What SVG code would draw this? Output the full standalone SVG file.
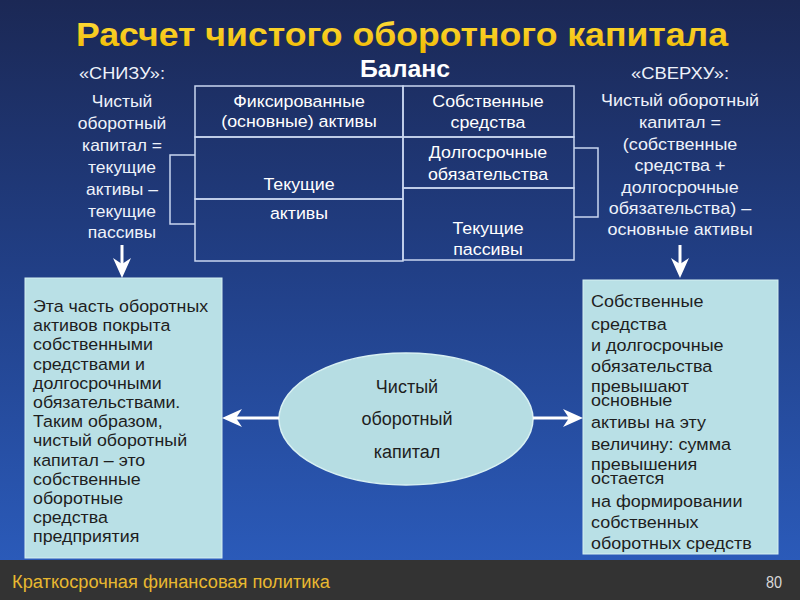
<svg xmlns="http://www.w3.org/2000/svg" width="800" height="600" viewBox="0 0 800 600">
<defs>
<linearGradient id="bg" x1="0" y1="0" x2="0" y2="1">
<stop offset="0" stop-color="#1b2855"/>
<stop offset="0.45" stop-color="#213f86"/>
<stop offset="1" stop-color="#2c5ec0"/>
</linearGradient>
<linearGradient id="ttl" x1="0" y1="0" x2="0" y2="1">
<stop offset="0" stop-color="#ffe040"/>
<stop offset="1" stop-color="#f0b800"/>
</linearGradient>
<marker id="ah" viewBox="0 0 20 20" refX="6" refY="10" markerWidth="20" markerHeight="20" markerUnits="userSpaceOnUse" orient="auto">
<path d="M0,1 L20,10 L0,19 L6,10 Z" fill="#ffffff"/>
</marker>
<style>
text{font-family:"Liberation Sans",Arial,sans-serif}
.w{fill:#eef2fa;font-size:16.5px;text-anchor:middle}
.tb{fill:#ffffff;font-size:16.5px;text-anchor:middle}
.bx{fill:#1e1e1e;font-size:16.5px}
.cell{fill:none;stroke:#c9d6f0;stroke-width:1.5}
.br{fill:none;stroke:#c9d6f0;stroke-width:1.5}
.box{fill:#b9e0e6;stroke:#d6f0f2;stroke-width:1}
.conn{stroke:#ffffff;stroke-width:3;fill:none;marker-end:url(#ah)}
</style>
</defs>
<rect x="0" y="0" width="800" height="600" fill="url(#bg)"/>
<rect x="0" y="560" width="800" height="40" fill="#333333"/>

<g id="title">
<text x="76" y="46" font-size="34" font-weight="bold" fill="url(#ttl)" textLength="652" lengthAdjust="spacingAndGlyphs">Расчет чистого оборотного капитала</text>
</g>

<g id="balance">
<text x="405" y="77" font-size="24" font-weight="bold" fill="#ffffff" text-anchor="middle" textLength="90" lengthAdjust="spacingAndGlyphs">Баланс</text>
<rect class="cell" x="195" y="86" width="208" height="51"/>
<rect class="cell" x="195" y="137" width="208" height="62"/>
<rect class="cell" x="195" y="199" width="208" height="62"/>
<rect class="cell" x="403" y="86" width="171" height="51"/>
<rect class="cell" x="403" y="137" width="171" height="51"/>
<rect class="cell" x="403" y="188" width="171" height="72"/>
<g transform="translate(299 0) scale(1.08 1)">
<text class="tb" x="0" y="107">Фиксированные</text>
<text class="tb" x="0" y="127">(основные) активы</text>
<text class="tb" x="0" y="190">Текущие</text>
<text class="tb" x="0" y="219">активы</text>
</g>
<g transform="translate(488 0) scale(1.08 1)">
<text class="tb" x="0" y="107">Собственные</text>
<text class="tb" x="0" y="128">средства</text>
<text class="tb" x="0" y="158">Долгосрочные</text>
<text class="tb" x="0" y="180">обязательства</text>
<text class="tb" x="0" y="234">Текущие</text>
<text class="tb" x="0" y="255">пассивы</text>
</g>
</g>

<g id="bottom-up">
<text x="122" y="79" font-size="17" fill="#eef2fa" text-anchor="middle" textLength="86" lengthAdjust="spacingAndGlyphs">«СНИЗУ»:</text>
<g transform="translate(122 0) scale(1.06 1)">
<text class="w" x="0" y="107">Чистый</text>
<text class="w" x="0" y="129">оборотный</text>
<text class="w" x="0" y="151">капитал =</text>
<text class="w" x="0" y="173">текущие</text>
<text class="w" x="0" y="195">активы –</text>
<text class="w" x="0" y="217">текущие</text>
<text class="w" x="0" y="238">пассивы</text>
</g>
<path class="br" d="M195,155 H170 V224 H195"/>
</g>

<g id="top-down">
<text x="680" y="79" font-size="17" fill="#eef2fa" text-anchor="middle" textLength="98" lengthAdjust="spacingAndGlyphs">«СВЕРХУ»:</text>
<g transform="translate(680 0) scale(1.09 1)">
<text class="w" x="0" y="106">Чистый оборотный</text>
<text class="w" x="0" y="128">капитал =</text>
<text class="w" x="0" y="150">(собственные</text>
<text class="w" x="0" y="171">средства +</text>
<text class="w" x="0" y="193">долгосрочные</text>
<text class="w" x="0" y="214">обязательства) –</text>
<text class="w" x="0" y="235">основные активы</text>
</g>
<path class="br" d="M574,148 H598 V217 H574"/>
</g>

<g id="left-box">
<rect class="box" x="25" y="278" width="197" height="280"/>
<g transform="translate(33 0) scale(1.08 1)">
<text class="bx" x="0" y="312">Эта часть оборотных</text>
<text class="bx" x="0" y="331">активов покрыта</text>
<text class="bx" x="0" y="350">собственными</text>
<text class="bx" x="0" y="370">средствами и</text>
<text class="bx" x="0" y="389">долгосрочными</text>
<text class="bx" x="0" y="408">обязательствами.</text>
<text class="bx" x="0" y="427">Таким образом,</text>
<text class="bx" x="0" y="446">чистый оборотный</text>
<text class="bx" x="0" y="466">капитал – это</text>
<text class="bx" x="0" y="485">собственные</text>
<text class="bx" x="0" y="504">оборотные</text>
<text class="bx" x="0" y="523">средства</text>
<text class="bx" x="0" y="542">предприятия</text>
</g>
</g>

<g id="right-box">
<rect class="box" x="583" y="280" width="195" height="274"/>
<g transform="translate(591 0) scale(1.09 1)">
<text class="bx" x="0" y="307">Собственные</text>
<text class="bx" x="0" y="330">средства</text>
<text class="bx" x="0" y="351">и долгосрочные</text>
<text class="bx" x="0" y="372">обязательства</text>
<text class="bx" x="0" y="392">превышают</text>
<text class="bx" x="0" y="406">основные</text>
<text class="bx" x="0" y="428">активы на эту</text>
<text class="bx" x="0" y="450">величину: сумма</text>
<text class="bx" x="0" y="470">превышения</text>
<text class="bx" x="0" y="484">остается</text>
<text class="bx" x="0" y="507">на формировании</text>
<text class="bx" x="0" y="528">собственных</text>
<text class="bx" x="0" y="549">оборотных средств</text>
</g>
</g>

<g id="ellipse-node">
<ellipse cx="406" cy="419" rx="127" ry="66" fill="#b6dde3" stroke="#d8f0f2" stroke-width="1.5"/>
<text x="407" y="393" font-size="18" fill="#1e1e1e" text-anchor="middle">Чистый</text>
<text x="407" y="425" font-size="18" fill="#1e1e1e" text-anchor="middle">оборотный</text>
<text x="407" y="458" font-size="18" fill="#1e1e1e" text-anchor="middle">капитал</text>
</g>

<g id="connectors">
<line class="conn" x1="122" y1="245" x2="122" y2="264"/>
<line class="conn" x1="680" y1="245" x2="680" y2="264"/>
<line class="conn" x1="279" y1="418" x2="236" y2="418"/>
<line class="conn" x1="533" y1="418" x2="569" y2="418"/>
</g>

<g id="footer">
<text x="12" y="588" font-size="18" fill="#e8b830" textLength="318" lengthAdjust="spacingAndGlyphs">Краткосрочная финансовая политика</text>
<text x="782" y="588" font-size="16" fill="#d8d8d8" text-anchor="end" textLength="16" lengthAdjust="spacingAndGlyphs">80</text>
</g>
</svg>
